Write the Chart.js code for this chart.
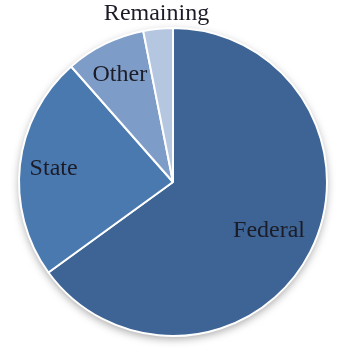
<!DOCTYPE html>
<html>
<head>
<meta charset="utf-8">
<script src="https://cdn.jsdelivr.net/npm/chart.js@4"></script>
<style>
  html, body { margin: 0; padding: 0; background: #fff; }
  #wrap { width: 350px; height: 353px; }
</style>
</head>
<body>
<div id="wrap"><canvas id="pieChart"></canvas></div>
<script>
const categories = ["Federal", "State", "Other", "Remaining"];
const shares = [65.0, 23.5, 8.4, 3.1];
const sliceColors = ["#3d6494", "#4a79b0", "#7e9cc8", "#b5c6e1"];
// how far out (fraction of radius) each label sits along its slice's middle angle
const labelRadius = [0.70, 0.78, 0.78, 1.10];

/* soft shadow behind the pie */
const pieShadow = {
  id: "pieShadow",
  beforeDatasetsDraw(chart) {
    const arc = chart.getDatasetMeta(0).data[0];
    if (!arc) return;
    const ctx = chart.ctx;
    ctx.save();
    ctx.beginPath();
    ctx.arc(arc.x, arc.y, arc.outerRadius, 0, Math.PI * 2);
    ctx.fillStyle = "#ffffff";
    ctx.shadowColor = "rgba(0,0,0,0.35)";
    ctx.shadowBlur = 8;
    ctx.shadowOffsetY = 3;
    ctx.fill();
    ctx.restore();
  }
};

/* slice names */
const sliceLabels = {
  id: "sliceLabels",
  afterDatasetsDraw(chart) {
    const ctx = chart.ctx;
    const arcs = chart.getDatasetMeta(0).data;
    ctx.save();
    ctx.font = "24px 'Liberation Serif', serif";
    ctx.fillStyle = "#1c1c28";
    ctx.textAlign = "center";
    ctx.textBaseline = "middle";
    arcs.forEach(function (arc, i) {
      const mid = (arc.startAngle + arc.endAngle) / 2;
      const r = arc.outerRadius * labelRadius[i];
      ctx.fillText(categories[i], arc.x + Math.cos(mid) * r, arc.y + Math.sin(mid) * r);
    });
    ctx.restore();
  }
};

new Chart(document.getElementById("pieChart"), {
  type: "pie",
  data: {
    labels: categories,
    datasets: [{
      data: shares,
      backgroundColor: sliceColors,
      borderColor: "#ffffff",
      borderWidth: 2
    }]
  },
  options: {
    responsive: true,
    maintainAspectRatio: false,
    animation: false,
    layout: { padding: { top: 27, bottom: 16, left: 18, right: 22 } },
    plugins: {
      legend: { display: false },
      tooltip: { enabled: false }
    }
  },
  plugins: [pieShadow, sliceLabels]
});
</script>
</body>
</html>
